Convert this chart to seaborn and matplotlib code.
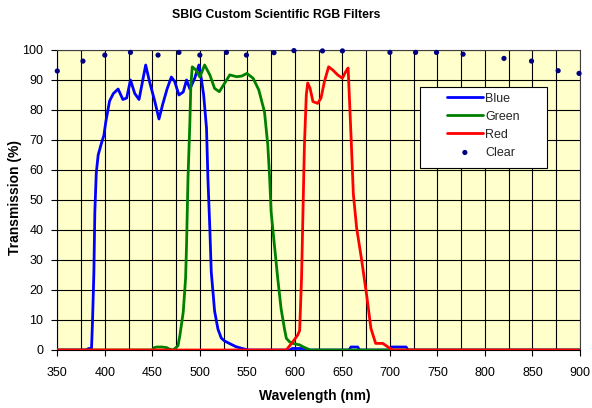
import numpy as np
import pandas as pd
import matplotlib
matplotlib.use("Agg")
import matplotlib.pyplot as plt
from matplotlib.patches import Rectangle
import seaborn as sns

# ---- data ----
blue_nm = [350, 380, 383, 386, 387, 388.5, 389.5, 391, 393, 396.5, 399, 401, 405, 409, 414, 419,
           423, 427, 431.5, 436, 443, 447, 452.5, 457, 461, 465.5, 470, 473.5, 478, 482.5, 486,
           489.5, 494.5, 499, 501.5, 504, 507, 508.5, 510.5, 512, 515.5, 519, 522.5, 526, 531,
           538, 547, 552, 595, 597, 611, 613, 657, 659, 666, 668, 700, 702, 717, 719, 900]
blue_val = [0, 0, 0.5, 0.5, 9, 26, 46, 59, 65, 69, 71.5, 76, 83, 85.5, 87, 83.5,
            84, 90, 85.5, 83.5, 95, 89.5, 83, 77, 82, 87, 91, 89.5, 85, 86, 90,
            87, 90.5, 95, 90.5, 85, 74, 57, 40.5, 26, 13, 7, 4, 3, 2.2,
            1.1, 0.3, 0, 0, 0.5, 0.5, 0, 0, 1, 1, 0, 0, 1, 1, 0, 0]

green_nm = [350, 450, 452, 455, 460, 465, 468, 472, 477, 479, 482.5, 485, 486, 487.5, 489.5,
            490.5, 492, 496, 500, 505, 510.5, 515.5, 520.5, 526, 531.5, 538.5, 544, 549.5,
            556, 562, 568, 571.5, 573.5, 575, 578.5, 582, 585.5, 589, 591, 594.5, 598, 605,
            609, 614, 616, 900]
green_val = [0, 0, 0.8, 1, 1, 0.8, 0.3, 0, 1.4, 4.9, 12.6, 24, 35, 57, 76,
             88, 94.4, 93.3, 91, 95, 91.7, 87.2, 86.1, 88.9, 91.7, 91.1, 91.3, 92.2,
             90.6, 86.7, 79.4, 68.3, 57, 46, 34.8, 23.7, 13.7, 7.1, 3.9, 2.7, 2.2, 1.7,
             1, 0.3, 0, 0]

red_nm = [350, 591, 598, 603, 605, 607, 608.5, 610, 612, 613.5, 616, 619, 624, 627.5, 631,
          635.5, 640, 645, 650, 653.5, 656, 657.5, 659.5, 661.5, 665, 670, 675.5, 680, 685,
          692.5, 697.5, 701, 703, 900]
red_val = [0, 0, 2.8, 5, 6.5, 24, 46, 68, 85, 89, 87.2, 82.8, 82.2, 84, 89.4,
           94.4, 93.3, 91.7, 90.6, 92.8, 94, 83, 68, 52, 40.6, 30.5, 18.3, 7.2, 2.2,
           2.2, 1.1, 0.3, 0, 0]

clear_nm = [350, 377, 400, 427, 456, 478, 500, 528, 549, 578, 599, 629, 650, 700, 727, 749,
            777, 820, 849, 877, 899]
clear_val = [93, 96.3, 98.3, 99.2, 98.3, 99.2, 98.3, 99.2, 98.3, 99.1, 99.8, 99.7, 99.7,
             99.2, 99.2, 99.2, 98.6, 97.2, 96.3, 93.1, 92.2]

x_ticks = list(range(350, 901, 50))
y_ticks = list(range(0, 101, 10))
title = "SBIG Custom Scientific RGB Filters"
xlabel = "Wavelength (nm)"
ylabel = "Transmission (%)"

# ---- style ----
sns.set_theme(style="white")
plt.rcParams["font.family"] = ["Liberation Sans", "DejaVu Sans"]

W, H = 592, 408
fig = plt.figure(figsize=(W / 100, H / 100), dpi=100)
fig.patch.set_facecolor("white")
x0, x1, y0, y1 = 57.3, 580, 50, 350
ax = fig.add_axes([x0 / W, 1 - y1 / H, (x1 - x0) / W, (y1 - y0) / H])
ax.set_facecolor("#FFFFCC")

lw = 2.0
sns.lineplot(x=blue_nm, y=blue_val, color="#0000FF", lw=lw, label="Blue", ax=ax,
             estimator=None, sort=False, zorder=3)
sns.lineplot(x=green_nm, y=green_val, color="#008000", lw=lw, label="Green", ax=ax,
             estimator=None, sort=False, zorder=3.1)
sns.lineplot(x=red_nm, y=red_val, color="#FF0000", lw=lw, label="Red", ax=ax,
             estimator=None, sort=False, zorder=3.2)
sns.scatterplot(x=clear_nm, y=clear_val, color="#000080", s=14, edgecolor="none",
                label="Clear", ax=ax, zorder=4, clip_on=False)

ax.set_xlim(350, 900)
ax.set_ylim(0, 100)
ax.set_xticks(x_ticks)
ax.set_xticks(np.arange(375, 900, 50), minor=True)
ax.set_yticks(y_ticks)
ax.grid(which="both", color="black", lw=0.8)
ax.set_axisbelow(True)
ax.tick_params(which="major", bottom=True, left=True, length=4, width=0.8,
               color="black", direction="out", labelsize=9, labelcolor="black")
ax.tick_params(axis="x", which="major", pad=8)
ax.tick_params(axis="y", which="major", pad=6)
ax.tick_params(which="minor", length=0)
for s in ax.spines.values():
    s.set_color("#404040")
    s.set_linewidth(0.8)
ax.spines["left"].set_color("black")
ax.spines["bottom"].set_color("black")
ax.set_xlabel("")
ax.set_ylabel("")

fig.text(276 / W, 1 - 15 / H, title, ha="center", va="center", fontweight="bold",
         fontsize=8.8, color="black")
fig.text(315 / W, 1 - 396 / H, xlabel, ha="center", va="center", fontweight="bold",
         fontsize=10, color="black")
fig.text(15 / W, 1 - 197 / H, ylabel, ha="center", va="center", fontweight="bold",
         fontsize=10, color="black", rotation=90)

# legend
lx0, ly0, lx1, ly1 = 420, 86.7, 546.7, 168.3
ax.add_patch(Rectangle(((lx0 - x0) / (x1 - x0), (y1 - ly1) / (y1 - y0)),
                       (lx1 - lx0) / (x1 - x0), (ly1 - ly0) / (y1 - y0),
                       transform=ax.transAxes, facecolor="white", edgecolor="black",
                       lw=0.8, zorder=4.5))
leg = ax.legend(loc="upper left",
                bbox_to_anchor=((443 - x0) / (x1 - x0), (y1 - 89) / (y1 - y0)),
                frameon=False, fontsize=9, handlelength=2.9, handletextpad=0.2,
                labelspacing=0.48, borderpad=0.3, borderaxespad=0)
leg.set_zorder(5)

fig.savefig("out.png", dpi=100, facecolor="white")
